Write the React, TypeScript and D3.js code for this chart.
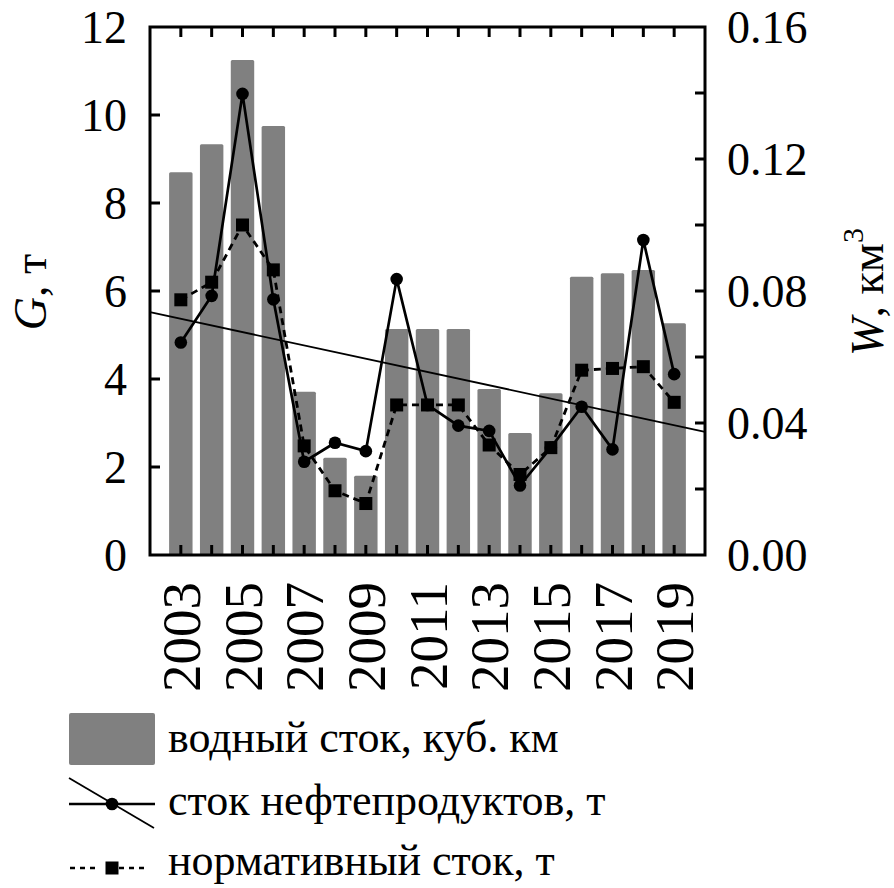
import React from "react";
import * as d3 from "d3";

const years = [2003, 2004, 2005, 2006, 2007, 2008, 2009, 2010, 2011, 2012, 2013, 2014, 2015, 2016, 2017, 2018, 2019];
const waterRunoff = [0.116, 0.1245, 0.150, 0.130, 0.0495, 0.0295, 0.024, 0.0685, 0.0685, 0.0685, 0.0503, 0.037, 0.049, 0.0843, 0.0854, 0.0864, 0.0702];
const oilRunoff = [4.83, 5.89, 10.48, 5.81, 2.12, 2.55, 2.36, 6.27, 3.41, 2.94, 2.82, 1.58, 2.44, 3.37, 2.40, 7.16, 4.11];
const normRunoff = [5.80, 6.20, 7.50, 6.48, 2.48, 1.46, 1.17, 3.41, 3.41, 3.41, 2.50, 1.83, 2.44, 4.20, 4.24, 4.28, 3.47];
const trendEnds = [5.52, 2.80];
const leftTicks = [0, 2, 4, 6, 8, 10, 12];
const rightTicks = [0, 0.02, 0.04, 0.06, 0.08, 0.1, 0.12, 0.14, 0.16];
const rightLabels = ["0.00", "0.04", "0.08", "0.12", "0.16"];
const labeledYears = [2003, 2005, 2007, 2009, 2011, 2013, 2015, 2017, 2019];
const legendLabels = ["водный сток, куб. км", "сток нефтепродуктов, т", "нормативный сток, т"];

const FONT = "'Liberation Serif', 'Times New Roman', serif";

export default function App() {
  const L = 150, R = 705, T = 27, B = 555;
  const x = d3.scalePoint<number>().domain(years).range([L, R]).padding(1);
  const step = x.step();
  const yL = d3.scaleLinear().domain([0, 12]).range([B, T]);
  const yR = d3.scaleLinear().domain([0, 0.16]).range([B, T]);
  const barW = step * 0.76;

  const lineG = d3.line<number>().x((_, i) => x(years[i])!).y((d) => yL(d));
  const tick = 10;
  const gray = "#808080";

  return (
    <svg width={894} height={888} style={{ position: "absolute", left: 0, top: 0, background: "#fff" }} fontFamily={FONT}>
      <rect x={0} y={0} width={894} height={888} fill="#fff" />
      {years.map((yr, i) => (
        <rect key={yr} x={x(yr)! - barW / 2} y={yR(waterRunoff[i])} width={barW} height={B - yR(waterRunoff[i])} fill={gray} rx={1.5} />
      ))}
      <line x1={L} y1={yL(trendEnds[0])} x2={R} y2={yL(trendEnds[1])} stroke="#000" strokeWidth={1.8} />
      <path d={lineG(normRunoff) || ""} fill="none" stroke="#000" strokeWidth={2.8} strokeDasharray="7,5" />
      <path d={lineG(oilRunoff) || ""} fill="none" stroke="#000" strokeWidth={2.7} />
      {oilRunoff.map((v, i) => (
        <circle key={"c" + i} cx={x(years[i])!} cy={yL(v)} r={6.3} fill="#000" />
      ))}
      {normRunoff.map((v, i) => (
        <rect key={"s" + i} x={x(years[i])! - 6.5} y={yL(v) - 6.5} width={13} height={13} fill="#000" />
      ))}
      <rect x={L} y={T} width={R - L} height={B - T} fill="none" stroke="#000" strokeWidth={3} />
      {leftTicks.map((t) => (
        <g key={"l" + t}>
          {t > 0 && t < 12 && <line x1={L} x2={L + tick} y1={yL(t)} y2={yL(t)} stroke="#000" strokeWidth={3} />}
          <text x={127} y={yL(t)} fontSize={46} textAnchor="end" dominantBaseline="central">{t}</text>
        </g>
      ))}
      {rightTicks.map((t, i) => (
        <g key={"r" + i}>
          {i > 0 && i < rightTicks.length - 1 && <line x1={R} x2={R - tick} y1={yR(t)} y2={yR(t)} stroke="#000" strokeWidth={3} />}
        </g>
      ))}
      {rightLabels.map((lab) => (
        <text key={lab} x={727} y={yR(+lab)} fontSize={46} textAnchor="start" dominantBaseline="central">{lab}</text>
      ))}
      {years.map((yr) => (
        <g key={"t" + yr}>
          <line x1={x(yr)!} x2={x(yr)!} y1={T} y2={T + tick} stroke="#000" strokeWidth={3} />
          <line x1={x(yr)!} x2={x(yr)!} y1={B} y2={B - tick} stroke="#000" strokeWidth={3} />
        </g>
      ))}
      {labeledYears.map((yr) => (
        <text key={"y" + yr} transform={`translate(${x(yr)! + 19},582) rotate(-90)`} fontSize={55} textAnchor="end">{yr}</text>
      ))}
      <text transform="translate(46,292) rotate(-90)" fontSize={46} textAnchor="middle">
        <tspan fontStyle="italic">G</tspan>, т
      </text>
      <text transform="translate(883,292) rotate(-90)" fontSize={46} textAnchor="middle">
        <tspan fontStyle="italic">W</tspan>, км<tspan fontSize={30} dy={-20}>3</tspan>
      </text>
      <rect x={69} y={713} width={86} height={52} fill={gray} rx={2} />
      <line x1={69} x2={155} y1={804} y2={804} stroke="#000" strokeWidth={2.7} />
      <line x1={69} x2={154} y1={778} y2={828} stroke="#000" strokeWidth={1.8} />
      <circle cx={112} cy={804} r={6.3} fill="#000" />
      <line x1={70} x2={100} y1={868} y2={868} stroke="#000" strokeWidth={2.4} strokeDasharray="5,5" />
      <line x1={119} x2={149} y1={868} y2={868} stroke="#000" strokeWidth={2.4} strokeDasharray="5,5" />
      <rect x={105.5} y={861.5} width={13} height={13} fill="#000" />
      {legendLabels.map((lab, i) => (
        <text key={lab} x={168} y={[752, 815, 875][i]} fontSize={44}>{lab}</text>
      ))}
    </svg>
  );
}
